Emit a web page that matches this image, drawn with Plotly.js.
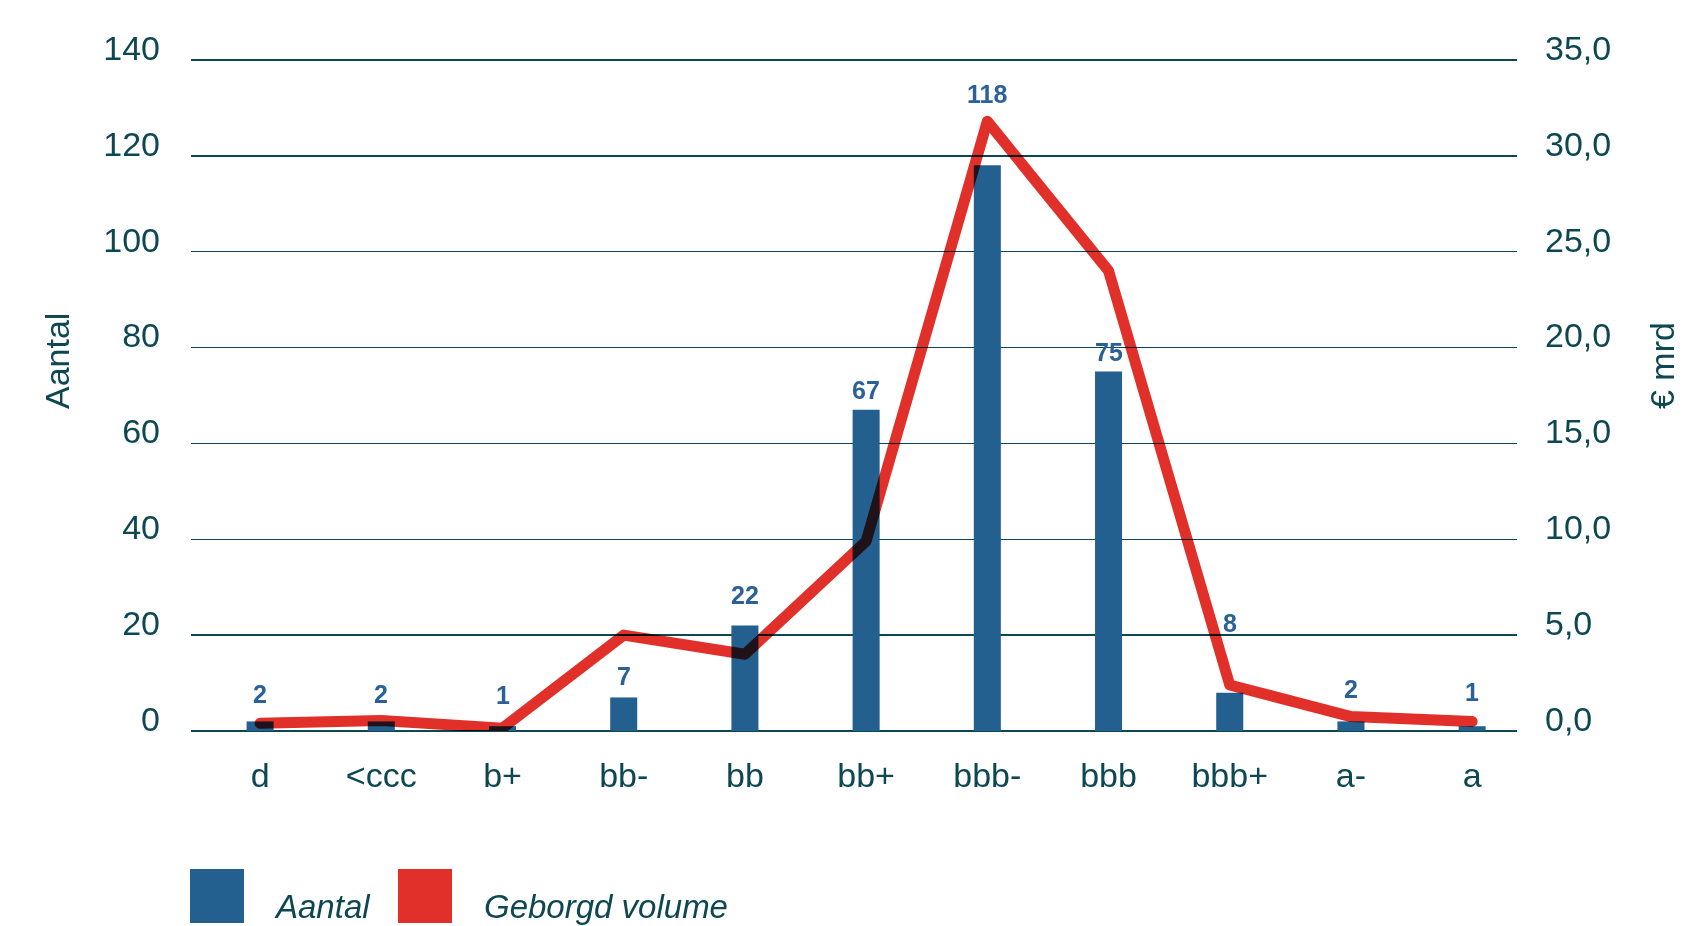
<!DOCTYPE html>
<html>
<head>
<meta charset="utf-8">
<script src="https://cdn.plot.ly/plotly-3.0.1.min.js"></script>
<style>
  html, body { margin: 0; padding: 0; background: #ffffff; }
  #chart { width: 1683px; height: 926px; }
  /* the volume line darkens where it crosses the bars */
  #chart .overplot > g.xy2 { mix-blend-mode: multiply; }
  #chart .scatterlayer path.js-line { stroke-linejoin: round; stroke-linecap: round; }
</style>
</head>
<body>
<div id="chart"></div>
<script>
// rating classes on the x axis
const categories = ['d', '<ccc', 'b+', 'bb-', 'bb', 'bb+', 'bbb-', 'bbb', 'bbb+', 'a-', 'a'];
// number of guarantees per rating class (left axis)
const aantal = [2, 2, 1, 7, 22, 67, 118, 75, 8, 2, 1];
// guaranteed volume in € billion (right axis)
const geborgdVolume = [0.4, 0.55, 0.15, 5.0, 4.0, 9.9, 31.8, 24.0, 2.4, 0.75, 0.5];
// axis ticks
const leftTicks = [0, 20, 40, 60, 80, 100, 120, 140];
const rightTicks = [0, 5, 10, 15, 20, 25, 30, 35];

// styling
const TEAL = '#0c4752';
const BLUE = '#235f8f';
const RED = '#e1302a';
const LABEL_BLUE = '#2a6197';
const FONT = 'Liberation Sans, Arial, Helvetica, sans-serif';
// pixel lift of each count label above its bar top
const labelLift = [27, 27, 31, 21, 31, 20, 71, 19, 70, 32, 34];

const M = { l: 191, r: 166, t: 58, b: 195 };
const W = 1683, H = 926;
const plotW = W - M.l - M.r, plotH = H - M.t - M.b;
const px2x = p => (p - M.l) / plotW;
const px2y = p => (H - M.b - p) / plotH;

const escapeText = s => s.replace(/</g, '&lt;');

const bars = {
  type: 'bar',
  name: 'Aantal',
  x: categories,
  y: aantal,
  marker: { color: BLUE, line: { width: 0 } },
  yaxis: 'y',
  hoverinfo: 'skip'
};

const line = {
  type: 'scatter',
  mode: 'lines',
  name: 'Geborgd volume',
  x: categories,
  y: geborgdVolume,
  line: { color: RED, width: 11 },
  yaxis: 'y2',
  hoverinfo: 'skip'
};

const annotations = aantal.map((v, i) => ({
  x: categories[i], y: v, xref: 'x', yref: 'y',
  text: String(v), showarrow: false,
  yanchor: 'middle', yshift: labelLift[i],
  font: { family: FONT, size: 25, color: LABEL_BLUE, weight: 'bold' }
}));

// axis titles
annotations.push({
  xref: 'paper', yref: 'paper', x: px2x(57), y: px2y(361),
  text: 'Aantal', textangle: -90, showarrow: false,
  xanchor: 'center', yanchor: 'middle',
  font: { family: FONT, size: 34, color: TEAL }
});
annotations.push({
  xref: 'paper', yref: 'paper', x: px2x(1662), y: px2y(366),
  text: '€ mrd', textangle: -90, showarrow: false,
  xanchor: 'center', yanchor: 'middle',
  font: { family: FONT, size: 34, color: TEAL }
});

// legend
const legendItems = [
  { label: 'Aantal', color: BLUE, box: [190, 244], textX: 272 },
  { label: 'Geborgd volume', color: RED, box: [398, 452], textX: 482 }
];
const shapes = legendItems.map(it => ({
  type: 'rect', xref: 'paper', yref: 'paper',
  x0: px2x(it.box[0]), x1: px2x(it.box[1]),
  y0: px2y(923), y1: px2y(869),
  fillcolor: it.color, line: { width: 0 }, layer: 'above'
}));
legendItems.forEach(it => annotations.push({
  xref: 'paper', yref: 'paper', x: px2x(it.textX), y: px2y(906),
  text: it.label, showarrow: false, xanchor: 'left', yanchor: 'middle',
  font: { family: FONT, size: 33, color: TEAL, style: 'italic' }
}));

const layout = {
  width: W, height: H,
  margin: M,
  paper_bgcolor: '#ffffff',
  plot_bgcolor: '#ffffff',
  separators: ',.',
  showlegend: false,
  bargap: 0.777,
  font: { family: FONT, color: TEAL },
  xaxis: {
    type: 'category',
    range: [-0.57, 10.37],
    tickvals: categories,
    ticktext: categories.map(escapeText),
    showgrid: false, zeroline: false, showline: false,
    ticks: '',
    ticklabelstandoff: 21,
    tickfont: { family: FONT, size: 34, color: TEAL },
    fixedrange: true
  },
  yaxis: {
    range: [0, 140.4],
    tickvals: leftTicks,
    showgrid: true, gridcolor: TEAL, gridwidth: 1.5,
    zeroline: true, zerolinecolor: TEAL, zerolinewidth: 2.5,
    showline: false, ticks: '',
    ticklabelstandoff: 30,
    ticklabelshift: -12,
    tickfont: { family: FONT, size: 34, color: TEAL },
    fixedrange: true
  },
  yaxis2: {
    overlaying: 'y', side: 'right',
    range: [0, 35.1],
    tickvals: rightTicks,
    tickformat: '.1f',
    showgrid: false, zeroline: false, showline: false, ticks: '',
    ticklabelstandoff: 27,
    ticklabelshift: -12,
    tickfont: { family: FONT, size: 34, color: TEAL },
    fixedrange: true
  },
  annotations: annotations,
  shapes: shapes
};

const gd = document.getElementById('chart');
Plotly.newPlot(gd, [bars, line], layout, { staticPlot: true, displayModeBar: false }).then(() => {
  // blend the volume subplot onto the bars beneath it, with rounded joins
  gd.querySelectorAll('.overplot > g').forEach(g => {
    if (g.classList.contains('xy2')) g.style.mixBlendMode = 'multiply';
  });
  gd.querySelectorAll('.scatterlayer path.js-line').forEach(p => {
    p.style.strokeLinejoin = 'round';
    p.style.strokeLinecap = 'round';
  });
});
</script>
</body>
</html>
